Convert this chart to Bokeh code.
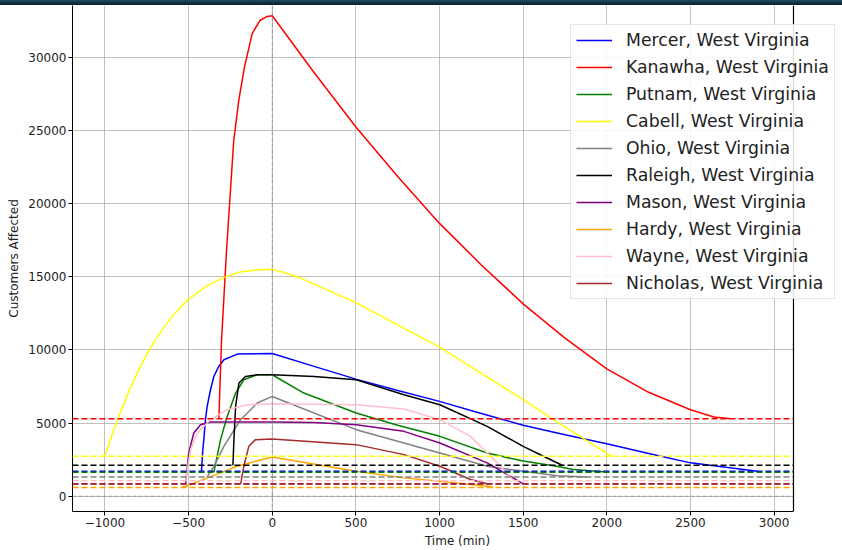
from bokeh.plotting import figure
from bokeh.layouts import column
from bokeh.models import (Span, Legend, LegendItem, FixedTicker, CustomJSTickFormatter,
                          Range1d, BoxAnnotation, Div)
from bokeh.embed import file_html
from bokeh.resources import INLINE

# ---------------- data ----------------
counties = ["Mercer, West Virginia", "Kanawha, West Virginia", "Putnam, West Virginia",
            "Cabell, West Virginia", "Ohio, West Virginia", "Raleigh, West Virginia",
            "Mason, West Virginia", "Hardy, West Virginia", "Wayne, West Virginia",
            "Nicholas, West Virginia"]
colors = ["blue", "red", "green", "yellow", "gray", "black", "purple", "orange", "pink", "brown"]

# baseline (dashed) levels of customers affected
baselines = [1705, 5300, 1640, 2727, 1320, 2114, 850, 595, 1060, 830]

mercer_t = [-423, -415, -409, -399, -389, -369, -349, -321, -289, -209, 0, 250, 500, 750, 1000, 1250, 1500, 1750, 2000, 2250, 2500, 2900]
mercer_v = [1705, 3184, 3866, 5230, 6136, 7275, 8182, 8843, 9320, 9709, 9750, 8870, 8000, 7220, 6480, 5650, 4850, 4200, 3590, 2920, 2280, 1705]

kanawha_t = [-319, -303, -273, -230, -200, -166, -120, -74, -30, 0, 250, 500, 750, 1000, 1250, 1500, 1750, 2000, 2250, 2500, 2640, 2740]
kanawha_v = [5300, 10684, 16820, 24320, 27040, 29320, 31600, 32500, 32780, 32822, 28950, 25230, 21850, 18640, 15800, 13140, 10800, 8707, 7100, 5911, 5413, 5300]

putnam_t = [-349, -309, -269, -219, -170, -90, 0, 189, 502, 750, 1002, 1285, 1500, 1700, 1800, 2000]
putnam_v = [1640, 3866, 5455, 7050, 7957, 8298, 8298, 7050, 5686, 4850, 4091, 2959, 2400, 2045, 1820, 1650]

cabell_t = [-1000, -950, -900, -850, -800, -750, -700, -650, -600, -550, -500, -400, -300, -200, -100, 0,
            150, 500, 800, 1000, 1500, 1700, 2030]
cabell_v = [2727, 4450, 5950, 7350, 8600, 9700, 10650, 11500, 12250, 12900, 13450, 14300, 14900, 15300, 15460, 15500,
            15000, 13230, 11400, 10190, 6600, 5100, 2727]

ohio_t = [-389, -349, -289, -189, -90, 0, 502, 1002, 1285, 1500, 1703, 1883]
ohio_v = [1320, 2045, 3409, 5230, 6368, 6818, 4548, 2959, 2045, 1705, 1400, 1320]

raleigh_t = [-235, -229, -219, -199, -160, -90, 0, 250, 502, 787, 1002, 1285, 1500, 1600, 1733]
raleigh_v = [2114, 3866, 6136, 7732, 8182, 8298, 8298, 8182, 7957, 6934, 6252, 4773, 3409, 2850, 2114]

mason_t = [-518, -499, -469, -429, -369, 0, 250, 502, 787, 1002, 1285, 1500]
mason_v = [850, 2959, 4323, 4889, 5073, 5073, 5040, 4889, 4432, 3641, 2277, 850]

hardy_t = [-541, -518, -309, -209, 0, 502, 787, 1002, 1285, 1320]
hardy_v = [595, 682, 1595, 2045, 2686, 1705, 1254, 1023, 682, 595]

wayne_t = [-518, -488, -448, -369, -269, -149, 0, 502, 787, 1002, 1185, 1345, 1444]
wayne_v = [1060, 3184, 4323, 5230, 5911, 6252, 6320, 6252, 5959, 5230, 4091, 2277, 1060]

nicholas_t = [-189, -170, -140, -100, 0, 502, 787, 1002, 1185, 1290]
nicholas_v = [830, 2045, 3409, 3866, 3914, 3525, 2843, 2045, 1139, 830]

series_t = [mercer_t, kanawha_t, putnam_t, cabell_t, ohio_t, raleigh_t, mason_t, hardy_t, wayne_t, nicholas_t]
series_v = [mercer_v, kanawha_v, putnam_v, cabell_v, ohio_v, raleigh_v, mason_v, hardy_v, wayne_v, nicholas_v]

x_ticks = [-1000, -500, 0, 500, 1000, 1500, 2000, 2500, 3000]
y_ticks = [0, 5000, 10000, 15000, 20000, 25000, 30000]

# axes limits (the visible axes box ends at X_MAX; the canvas extends a bit further right)
X_MIN, X_MAX, X_VIEW_END = -1194, 3116, 3409
Y_MIN, Y_MAX = -1043, 33525

# ---------------- figure ----------------
p = figure(width=842, height=545, output_backend="svg", toolbar_location=None,
           x_range=Range1d(X_MIN, X_VIEW_END), y_range=Range1d(Y_MIN, Y_MAX),
           min_border_left=72, min_border_right=0, min_border_top=0, min_border_bottom=38,
           margin=0)

p.background_fill_color = "white"
p.border_fill_color = "white"
p.outline_line_color = None

fmt = CustomJSTickFormatter(code="return tick < 0 ? '\u2212' + Math.abs(tick) : tick.toString();")
for ax, ticks, lab in ((p.xaxis[0], x_ticks, "Time (min)"), (p.yaxis[0], y_ticks, "Customers Affected")):
    ax.ticker = FixedTicker(ticks=ticks)
    ax.formatter = fmt
    ax.axis_label = lab
    ax.axis_label_text_font = "DejaVu Sans"
    ax.axis_label_text_font_size = "12px"
    ax.axis_label_text_font_style = "normal"
    ax.axis_label_text_color = "#222222"
    ax.major_label_text_font = "DejaVu Sans"
    ax.major_label_text_font_size = "12px"
    ax.major_label_text_color = "#222222"
    ax.major_tick_out = 4
    ax.major_tick_in = 0
    ax.minor_tick_line_color = None
    ax.axis_line_color = "black"
    ax.major_tick_line_color = "black"
    ax.major_label_standoff = 2
    ax.axis_label_standoff = 4
p.xaxis[0].bounds = (X_MIN, X_MAX)

p.xgrid.grid_line_color = "#b0b0b0"
p.ygrid.grid_line_color = "#b0b0b0"
p.xgrid.grid_line_width = 0.8
p.ygrid.grid_line_width = 0.8

# reference lines at zero
p.add_layout(Span(location=0, dimension="width", line_color="gray", line_dash="4 2",
                  line_width=0.8, line_alpha=0.8))
p.add_layout(Span(location=0, dimension="height", line_color="gray", line_dash="4 2",
                  line_width=0.8, line_alpha=0.8))

items = []
for name, col, tt, vv, base in zip(counties, colors, series_t, series_v, baselines):
    r = p.line(tt, vv, line_color=col, line_width=1.5, line_join="round")
    items.append(LegendItem(label=name, renderers=[r]))
    p.add_layout(Span(location=base, dimension="width", line_color=col,
                      line_dash="6 3", line_width=1.5))

# white area right of the axes box, and the right spine
p.add_layout(BoxAnnotation(left=X_MAX, fill_color="white", fill_alpha=1.0, line_color=None))
p.add_layout(Span(location=X_MAX, dimension="height", line_color="black", line_width=1.2))

legend = Legend(items=items, location=(498, 212))
legend.label_text_font = "DejaVu Sans"
legend.label_text_font_size = "17.3px"
legend.label_text_color = "#222222"
legend.glyph_width = 36
legend.glyph_height = 20
legend.label_height = 20
legend.spacing = 7
legend.label_standoff = 14
legend.padding = 5
legend.margin = 0
legend.border_line_color = "#cccccc"
legend.border_line_width = 1
legend.background_fill_alpha = 0.85
p.add_layout(legend, "center")

# dark strip across the top (cropped title bar in the reference)
bar = Div(width=842, height=5, margin=0,
          styles={"background": "linear-gradient(#1d4c69, #0a1c27)"})

layout = column(bar, p, spacing=0, margin=0)
open("out.html", "w").write(file_html(layout, INLINE))
